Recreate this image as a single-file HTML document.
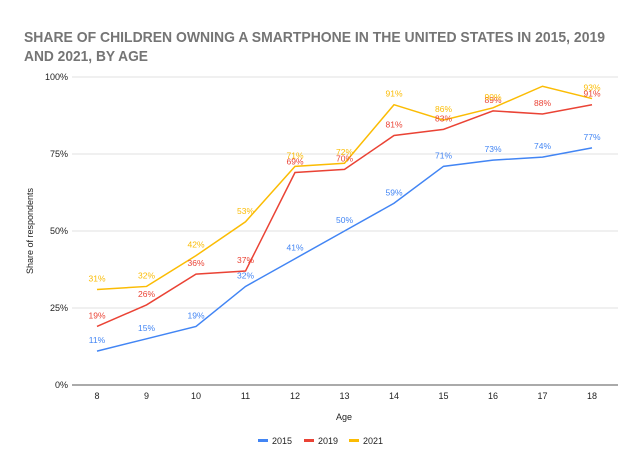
<!DOCTYPE html><html><head><style>body{margin:0;background:#fff}svg{display:block}</style></head><body>
<svg width="640" height="471" xmlns="http://www.w3.org/2000/svg" font-family="Liberation Sans, Arial, sans-serif">
<rect width="640" height="471" fill="#fff"/>
<text x="24" y="42" font-size="15" font-weight="bold" fill="#757575" textLength="581" lengthAdjust="spacingAndGlyphs">SHARE OF CHILDREN OWNING A SMARTPHONE IN THE UNITED STATES IN 2015, 2019</text>
<text x="24" y="61" font-size="15" font-weight="bold" fill="#757575" textLength="124" lengthAdjust="spacingAndGlyphs">AND 2021, BY AGE</text>
<g stroke="#e0e0e0" stroke-width="1">
<line x1="72" x2="618" y1="77" y2="77"/><line x1="72" x2="618" y1="154" y2="154"/><line x1="72" x2="618" y1="231" y2="231"/><line x1="72" x2="618" y1="308" y2="308"/>
</g>
<line x1="72" x2="618" y1="385" y2="385" stroke="#555" stroke-width="1"/>
<g font-size="9" fill="#222" text-anchor="end">
<text x="68" y="80">100%</text><text x="68" y="157">75%</text><text x="68" y="234">50%</text><text x="68" y="311">25%</text><text x="68" y="388">0%</text>
</g>
<g font-size="9" fill="#222" text-anchor="middle" id="xt"></g>
<text x="344" y="420" font-size="9" fill="#222" text-anchor="middle">Age</text>
<text transform="translate(33,231) rotate(-90)" font-size="9" fill="#222" text-anchor="middle">Share of respondents</text>
<g id="series"></g>
<g font-size="9" fill="#222">
<rect x="258" y="439" width="10" height="3" fill="#4285F4"/><text x="272" y="444">2015</text>
<rect x="304" y="439" width="10" height="3" fill="#EA4335"/><text x="318" y="444">2019</text>
<rect x="349" y="439" width="10" height="3" fill="#FBBC04"/><text x="363" y="444">2021</text>
</g>
</svg>
<script>
var ns="http://www.w3.org/2000/svg";
function X(i){return 97+i*49.5}function Y(v){return 385-v*3.08}
var xt=document.getElementById('xt');
for(var i=0;i<11;i++){var t=document.createElementNS(ns,'text');t.setAttribute('x',X(i));t.setAttribute('y',399);t.textContent=8+i;xt.appendChild(t);}
var S=[["#4285F4",[11,15,19,32,41,50,59,71,73,74,77],[1,1,1,1,1,1,1,1,1,1,1]],
["#EA4335",[19,26,36,37,69,70,81,83,89,88,91],[1,1,1,1,1,1,1,1,1,1,1]],
["#FBBC04",[31,32,42,53,71,72,91,86,90,97,93],[1,1,1,1,1,1,1,1,1,0,1]]];
var g=document.getElementById('series');
S.forEach(function(s){var p=s[1].map(function(v,i){return X(i)+','+Y(v)}).join(' ');
var pl=document.createElementNS(ns,'polyline');pl.setAttribute('points',p);pl.setAttribute('fill','none');pl.setAttribute('stroke',s[0]);pl.setAttribute('stroke-width','1.5');g.appendChild(pl);});
S.forEach(function(s){s[1].forEach(function(v,i){if(!s[2][i])return;var t=document.createElementNS(ns,'text');t.setAttribute('x',X(i));t.setAttribute('y',Y(v)-8);t.setAttribute('font-size','8.5');t.setAttribute('fill',s[0]);t.setAttribute('text-anchor','middle');t.textContent=v+'%';g.appendChild(t);});});
</script>
</body></html>
